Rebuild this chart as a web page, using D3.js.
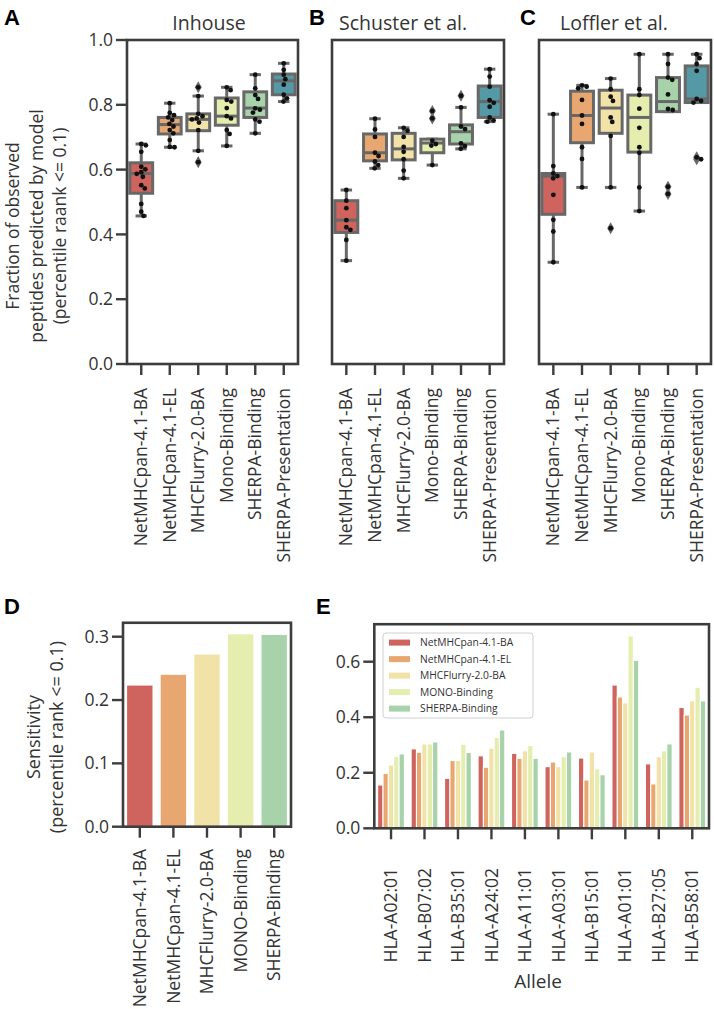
<!DOCTYPE html>
<html><head><meta charset="utf-8">
<script src="https://cdn.jsdelivr.net/npm/d3@7"></script>
<style>body{margin:0;background:#fff} svg{display:block} text{font-family:"Open Sans",sans-serif;}</style>
</head><body><svg id="c" width="714" height="1009"></svg>
<script>
// ---------------- DATA ----------------
const models = ["NetMHCpan-4.1-BA","NetMHCpan-4.1-EL","MHCFlurry-2.0-BA","Mono-Binding","SHERPA-Binding","SHERPA-Presentation"];
const datasetTitles = ["Inhouse","Schuster et al.","Loffler et al."];
const yTicksBox = [0.0,0.2,0.4,0.6,0.8,1.0];

// box stats per model: [q1, median, q3, whiskerLow, whiskerHigh]
const inhouseStats = [[0.527,0.588,0.621,0.457,0.679],[0.710,0.739,0.761,0.669,0.805],[0.720,0.755,0.772,0.658,0.827],[0.737,0.765,0.821,0.673,0.854],[0.761,0.790,0.840,0.712,0.893],[0.831,0.874,0.895,0.810,0.928]];
const inhouseOutliers = [[],[],[0.854,0.623],[],[],[]];
const inhousePoints = [
  [0.679,0.675,0.655,0.609,0.601,0.592,0.587,0.578,0.552,0.542,0.494,0.470,0.457],
  [0.805,0.775,0.768,0.761,0.753,0.741,0.733,0.722,0.712,0.691,0.670,0.669],
  [0.854,0.827,0.772,0.765,0.758,0.755,0.745,0.722,0.658,0.623],
  [0.854,0.845,0.815,0.810,0.790,0.765,0.758,0.722,0.710,0.673],
  [0.893,0.851,0.830,0.818,0.789,0.785,0.776,0.755,0.748,0.712],
  [0.928,0.908,0.893,0.879,0.862,0.831,0.820,0.810]];

const schusterStats = [[0.406,0.444,0.504,0.319,0.537],[0.627,0.652,0.710,0.604,0.757],[0.630,0.664,0.712,0.573,0.729],[0.652,0.682,0.694,0.614,0.694],[0.679,0.717,0.738,0.664,0.792],[0.761,0.810,0.858,0.748,0.910]];
const schusterOutliers = [[],[],[],[0.781,0.758],[0.828],[]];
const schusterPoints = [
  [0.537,0.504,0.481,0.444,0.422,0.414,0.383,0.319],
  [0.757,0.724,0.701,0.652,0.642,0.625,0.614,0.604],
  [0.729,0.720,0.701,0.670,0.655,0.632,0.597,0.573],
  [0.781,0.758,0.689,0.679,0.674,0.614],
  [0.828,0.792,0.733,0.725,0.681,0.672,0.664],
  [0.910,0.887,0.856,0.814,0.806,0.794,0.761,0.752,0.748]];

const lofflerStats = [[0.462,0.580,0.588,0.314,0.771],[0.683,0.767,0.842,0.545,0.860],[0.712,0.790,0.845,0.545,0.881],[0.654,0.761,0.830,0.472,0.956],[0.779,0.810,0.884,0.779,0.956],[0.807,0.818,0.920,0.807,0.956]];
const lofflerOutliers = [[],[],[0.419],[],[0.547,0.525],[0.638,0.632]];
const lofflerPoints = [
  [0.771,0.611,0.588,0.580,0.573,0.522,0.445,0.409,0.314],
  [0.860,0.856,0.851,0.815,0.767,0.741,0.669,0.633,0.545],
  [0.881,0.848,0.825,0.812,0.761,0.747,0.704,0.545,0.419],
  [0.956,0.848,0.830,0.788,0.729,0.669,0.652,0.545,0.472],
  [0.956,0.926,0.884,0.877,0.832,0.787,0.784,0.547,0.525],
  [0.956,0.944,0.926,0.905,0.818,0.812,0.807,0.638,0.632]];

// panel D
const sensModels = ["NetMHCpan-4.1-BA","NetMHCpan-4.1-EL","MHCFlurry-2.0-BA","MONO-Binding","SHERPA-Binding"];
const sensValues = [0.224,0.241,0.273,0.305,0.304];
const yTicksD = [0.0,0.1,0.2,0.3];

// panel E
const alleles = ["HLA-A02:01","HLA-B07:02","HLA-B35:01","HLA-A24:02","HLA-A11:01","HLA-A03:01","HLA-B15:01","HLA-A01:01","HLA-B27:05","HLA-B58:01"];
const alleleNetBA   = [0.156,0.286,0.180,0.261,0.270,0.222,0.253,0.516,0.232,0.435];
const alleleNetEL   = [0.198,0.274,0.244,0.220,0.252,0.239,0.174,0.473,0.160,0.408];
const alleleFlurry  = [0.228,0.304,0.244,0.289,0.279,0.222,0.275,0.452,0.258,0.459];
const alleleMono    = [0.258,0.304,0.303,0.327,0.298,0.258,0.214,0.693,0.279,0.508];
const alleleSherpa  = [0.268,0.311,0.273,0.354,0.252,0.275,0.193,0.605,0.304,0.459];
const yTicksE = [0.0,0.2,0.4,0.6];

// ---------------- STYLE ----------------
const palette = ["#cf635d","#e8a771","#f1e2a7","#e5eeae","#a8d2aa","#5598a6"];
const TXT = "#333", AX = "#3d3d3d", BOXC = "#686868";
const FS = 17.5;

const svg = d3.select("#c");
const fmt = d3.format(".1f");

function panelLetter(t, x, y){
  svg.append("text").attr("x",x).attr("y",y).text(t)
    .style("font-family","'Liberation Sans',Arial,sans-serif").style("font-weight","bold")
    .attr("font-size",22).attr("fill","#000");
}

function swarm(vals, cx, y, r){
  const pts = vals.map(v=>({v, py:y(v)})).sort((a,b)=>a.py-b.py);
  const placed = [];
  const d2 = 2*r;
  pts.forEach(p=>{
    const cands=[cx];
    placed.forEach(q=>{
      const dy = Math.abs(q.py-p.py);
      if(dy<d2){ const dx=Math.sqrt(d2*d2-dy*dy); cands.push(q.x+dx+0.01, q.x-dx-0.01);}
    });
    cands.sort((a,b)=>Math.abs(a-cx)-Math.abs(b-cx));
    for(const c of cands){
      if(placed.every(q=>(q.x-c)**2+(q.py-p.py)**2 >= d2*d2-0.01)){ p.x=c; break; }
    }
    placed.push(p);
  });
  return placed;
}

function boxPanel(stats, points, outliers, x0, x1, title, titleX, showY){
  const top=40, bot=364;
  const x = d3.scaleBand().domain(models).range([x0,x1]).padding(0);
  const y = d3.scaleLinear().domain([0,1]).range([bot,top]);
  const g = svg.append("g");
  const bw = x.bandwidth(), w = bw*0.8;
  models.forEach((m,i)=>{
    const [q1,md,q3,lo,hi] = stats[i];
    const cx = x(m)+bw/2;
    const gg = g.append("g");
    gg.append("line").attr("x1",cx).attr("x2",cx).attr("y1",y(q3)).attr("y2",y(hi)).attr("stroke",BOXC).attr("stroke-width",3);
    gg.append("line").attr("x1",cx).attr("x2",cx).attr("y1",y(q1)).attr("y2",y(lo)).attr("stroke",BOXC).attr("stroke-width",3);
    [hi,lo].forEach(v=>gg.append("line").attr("x1",cx-w/4).attr("x2",cx+w/4).attr("y1",y(v)).attr("y2",y(v)).attr("stroke",BOXC).attr("stroke-width",3));
    gg.append("rect").attr("x",cx-w/2).attr("y",y(q3)).attr("width",w).attr("height",y(q1)-y(q3))
      .attr("fill",palette[i]).attr("stroke",BOXC).attr("stroke-width",3);
    gg.append("line").attr("x1",cx-w/2).attr("x2",cx+w/2).attr("y1",y(md)).attr("y2",y(md)).attr("stroke",BOXC).attr("stroke-width",3);
    outliers[i].forEach(v=>{
      gg.append("path").attr("d",d3.symbol(d3.symbolDiamond,42)()).attr("transform",`translate(${cx},${y(v)})`).attr("fill",BOXC);
    });
    swarm(points[i], cx, y, 2.4).forEach(p=>{
      gg.append("circle").attr("cx",p.x).attr("cy",p.py).attr("r",2.4).attr("fill","#111");
    });
  });
  // frame
  g.append("rect").attr("x",x0).attr("y",top).attr("width",x1-x0).attr("height",bot-top).attr("fill","none").attr("stroke",AX).attr("stroke-width",2.6);
  // bottom ticks + labels
  models.forEach(m=>{
    const cx = x(m)+bw/2;
    g.append("line").attr("x1",cx).attr("x2",cx).attr("y1",bot).attr("y2",bot+11).attr("stroke",AX).attr("stroke-width",2.4);
    g.append("text").attr("transform",`translate(${cx},388) rotate(-90)`).attr("text-anchor","end").attr("dy","0.35em")
      .attr("font-size",FS).attr("fill",TXT).text(m);
  });
  if(showY){
    yTicksBox.forEach(t=>{
      g.append("line").attr("x1",x0-11).attr("x2",x0).attr("y1",y(t)).attr("y2",y(t)).attr("stroke",AX).attr("stroke-width",2.4);
      g.append("text").attr("x",x0-14).attr("y",y(t)).attr("dy","0.35em").attr("text-anchor","end").attr("font-size",FS).attr("fill",TXT).text(fmt(t));
    });
  }
  g.append("text").attr("x",titleX).attr("y",30).attr("text-anchor","middle").attr("font-size",19.5).attr("fill",TXT).text(title);
}

boxPanel(inhouseStats, inhousePoints, inhouseOutliers, 127, 298, datasetTitles[0], 209, true);
boxPanel(schusterStats, schusterPoints, schusterOutliers, 332, 504, datasetTitles[1], 403, false);
boxPanel(lofflerStats, lofflerPoints, lofflerOutliers, 539, 711, datasetTitles[2], 614, false);

// Y label A
const yl = ["Fraction of observed","peptides predicted by model","(percentile raank <= 0.1)"];
yl.forEach((t,i)=>{
  svg.append("text").attr("transform",`translate(${13+i*23.5},226) rotate(-90)`).attr("text-anchor","middle").attr("dy","0.35em")
    .attr("font-size",17.5).attr("fill",TXT).text(t);
});

panelLetter("A",4,25); panelLetter("B",309,25); panelLetter("C",520,25);
panelLetter("D",4,614); panelLetter("E",316,614);

// ---------------- PANEL D ----------------
(function(){
  const x0=123, x1=291, bot=826.7;
  const x = d3.scaleBand().domain(sensModels).range([x0,x1]);
  const y = d3.scaleLinear().domain([0,0.3]).range([bot,636.7]);
  const top = y(0.322);
  const bw = x.bandwidth();
  sensModels.forEach((m,i)=>{
    const cx = x(m)+bw/2, w=bw*0.8;
    svg.append("rect").attr("x",cx-w/2).attr("y",y(sensValues[i])).attr("width",w).attr("height",bot-y(sensValues[i]))
      .attr("fill",palette[i]).attr("stroke","#fff").attr("stroke-width",1.5);
    svg.append("line").attr("x1",cx).attr("x2",cx).attr("y1",bot).attr("y2",bot+11).attr("stroke",AX).attr("stroke-width",2.4);
    svg.append("text").attr("transform",`translate(${cx},849) rotate(-90)`).attr("text-anchor","end").attr("dy","0.35em")
      .attr("font-size",FS).attr("fill",TXT).text(m);
  });
  svg.append("rect").attr("x",x0).attr("y",top).attr("width",x1-x0).attr("height",bot-top).attr("fill","none").attr("stroke",AX).attr("stroke-width",2.6);
  yTicksD.forEach(t=>{
    svg.append("line").attr("x1",x0-11).attr("x2",x0).attr("y1",y(t)).attr("y2",y(t)).attr("stroke",AX).attr("stroke-width",2.4);
    svg.append("text").attr("x",x0-14).attr("y",y(t)).attr("dy","0.35em").attr("text-anchor","end").attr("font-size",FS).attr("fill",TXT).text(fmt(t));
  });
  ["Sensitivity","(percentile rank <= 0.1)"].forEach((t,i)=>{
    svg.append("text").attr("transform",`translate(${34+i*23},737) rotate(-90)`).attr("text-anchor","middle").attr("dy","0.35em")
      .attr("font-size",18).attr("fill",TXT).text(t);
  });
})();

// ---------------- PANEL E ----------------
(function(){
  const x0=374.3, x1=709, bot=828.3;
  const series = [alleleNetBA, alleleNetEL, alleleFlurry, alleleMono, alleleSherpa];
  const x = d3.scaleBand().domain(alleles).range([x0,x1]);
  const y = d3.scaleLinear().domain([0,0.6]).range([bot,661.7]);
  const top = y(0.735);
  const bw = x.bandwidth(), gw = bw*0.8;
  const xi = d3.scaleBand().domain(d3.range(series.length)).range([0,gw]);
  alleles.forEach((a,j)=>{
    const gx = x(a)+bw/2-gw/2;
    series.forEach((s,i)=>{
      svg.append("rect").attr("x",gx+xi(i)).attr("y",y(s[j])).attr("width",xi.bandwidth()).attr("height",bot-y(s[j]))
        .attr("fill",palette[i]).attr("stroke","#fff").attr("stroke-width",1.1);
    });
    const cx = x(a)+bw/2;
    svg.append("line").attr("x1",cx).attr("x2",cx).attr("y1",bot).attr("y2",bot+11).attr("stroke",AX).attr("stroke-width",2.4);
    svg.append("text").attr("transform",`translate(${cx},868) rotate(-90)`).attr("text-anchor","end").attr("dy","0.35em")
      .attr("font-size",FS).attr("fill",TXT).text(a);
  });
  svg.append("rect").attr("x",x0).attr("y",top).attr("width",x1-x0).attr("height",bot-top).attr("fill","none").attr("stroke",AX).attr("stroke-width",2.6);
  yTicksE.forEach(t=>{
    svg.append("line").attr("x1",x0-11).attr("x2",x0).attr("y1",y(t)).attr("y2",y(t)).attr("stroke",AX).attr("stroke-width",2.4);
    svg.append("text").attr("x",x0-14).attr("y",y(t)).attr("dy","0.35em").attr("text-anchor","end").attr("font-size",FS).attr("fill",TXT).text(fmt(t));
  });
  svg.append("text").attr("x",538).attr("y",988).attr("text-anchor","middle").attr("font-size",19).attr("fill",TXT).text("Allele");
  // legend
  const lg = svg.append("g");
  lg.append("rect").attr("x",383).attr("y",633).attr("width",150).attr("height",85).attr("rx",3)
    .attr("fill","#fff").attr("fill-opacity",0.85).attr("stroke","#d0d0d0").attr("stroke-width",1);
  sensModels.forEach((m,i)=>{
    const cy = 642.6 + i*16.5;
    lg.append("rect").attr("x",389).attr("y",cy-3).attr("width",21).attr("height",6).attr("fill",palette[i]);
    lg.append("text").attr("x",420).attr("y",cy).attr("dy","0.35em").attr("font-size",10.3).attr("fill",TXT).text(m);
  });
})();
</script></body></html>
